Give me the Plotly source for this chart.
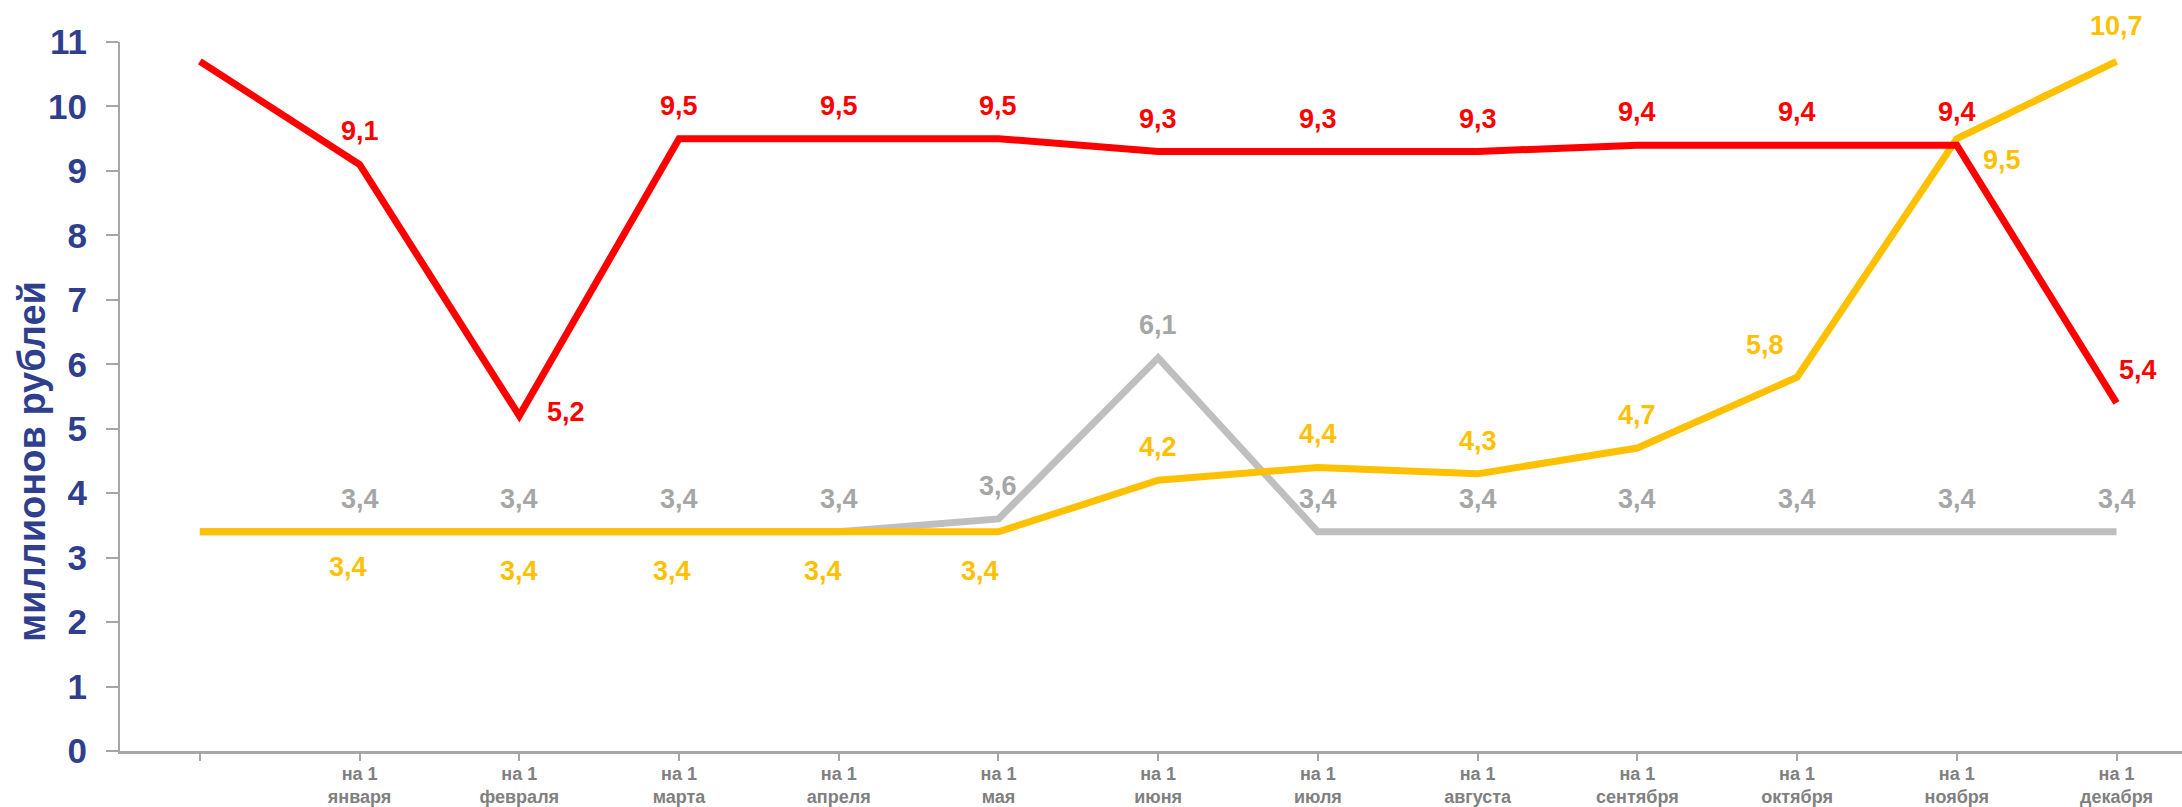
import plotly.graph_objects as go

# ---- data ----
categories = ["", "на 1<br>января", "на 1<br>февраля", "на 1<br>марта", "на 1<br>апреля",
              "на 1<br>мая", "на 1<br>июня", "на 1<br>июля", "на 1<br>августа",
              "на 1<br>сентября", "на 1<br>октября", "на 1<br>ноября", "на 1<br>декабря"]
red_values = [10.7, 9.1, 5.2, 9.5, 9.5, 9.5, 9.3, 9.3, 9.3, 9.4, 9.4, 9.4, 5.4]
gray_values = [3.4, 3.4, 3.4, 3.4, 3.4, 3.6, 6.1, 3.4, 3.4, 3.4, 3.4, 3.4, 3.4]
yellow_values = [3.4, 3.4, 3.4, 3.4, 3.4, 3.4, 4.2, 4.4, 4.3, 4.7, 5.8, 9.5, 10.7]
y_ticks = list(range(0, 12))
y_title = "миллионов рублей"

# ---- label placement (style, not data): (xshift, yshift) in px; None = no label ----
red_offsets = [None] + [(0, 33)] + [(47, 4)] + [(0, 33)] * 9 + [(21, 33)]
gray_offsets = [None] + [(0, 33)] * 12
yellow_offsets = [None] + [(-12, -35), (0, -39), (-7, -39), (-16, -39), (-18, -39),
                           (0, 33), (0, 33), (0, 33), (0, 33), (-32, 32), (45, -21), (0, 35)]

RED = "#FF0000"
YELLOW = "#FFC000"
GRAY_LINE = "#BFBFBF"
GRAY_TEXT = "#A6A6A6"
NAVY = "#2F3F8E"
AXIS = "#A6A6A6"
NARROW = "Liberation Sans Narrow, Arial Narrow, Liberation Sans, sans-serif"
SANS = "Liberation Sans, Arial, sans-serif"

x_idx = list(range(len(categories)))

fig = go.Figure()
for vals, color in [(gray_values, GRAY_LINE), (yellow_values, YELLOW), (red_values, RED)]:
    fig.add_trace(go.Scatter(x=x_idx, y=vals, mode="lines",
                             line=dict(color=color, width=7), hoverinfo="skip",
                             showlegend=False))

annotations = []
for vals, offs, color in [(gray_values, gray_offsets, GRAY_TEXT),
                          (yellow_values, yellow_offsets, YELLOW),
                          (red_values, red_offsets, RED)]:
    for i, (v, o) in enumerate(zip(vals, offs)):
        if o is None:
            continue
        annotations.append(dict(
            x=i, y=v, xref="x", yref="y",
            text="<b>" + f"{v:.1f}".replace(".", ",") + "</b>",
            showarrow=False, xshift=o[0], yshift=o[1],
            xanchor="center", yanchor="middle",
            font=dict(family=SANS, size=27, color=color)))

# y-axis title as a rotated annotation (placed lower than axis centre, as in reference)
annotations.append(dict(
    text="<b>" + y_title + "</b>", x=0, y=0.4076, xref="paper", yref="paper",
    xanchor="center", yanchor="middle", showarrow=False, textangle=-90,
    xshift=32 - 120, font=dict(family=SANS, size=38, color=NAVY)))

fig.update_layout(
    width=2182, height=807,
    margin=dict(l=120, r=0, t=42, b=56, autoexpand=False),
    paper_bgcolor="white", plot_bgcolor="white",
    annotations=annotations,
    showlegend=False,
    font=dict(family=SANS),
)
fig.update_xaxes(
    range=[-0.5, 12.41],
    tickmode="array", tickvals=x_idx, ticktext=[f"<b>{c}</b>" for c in categories],
    tickfont=dict(family=NARROW, size=18, color="#808080"),
    showline=True, linecolor=AXIS, linewidth=3,
    ticks="outside", ticklen=7, tickcolor=AXIS, tickwidth=1.5,
    tickson="boundaries", ticklabelstandoff=-3,
    showgrid=False, zeroline=False,
)
fig.update_yaxes(
    range=[0, 11],
    tickmode="array", tickvals=y_ticks, ticktext=[f"<b>{t}</b>" for t in y_ticks],
    tickfont=dict(family=NARROW, size=35, color=NAVY),
    showline=True, linecolor=AXIS, linewidth=2,
    ticks="outside", ticklen=12, tickcolor=AXIS, tickwidth=2,
    ticklabelstandoff=12,
    showgrid=False, zeroline=False,
)

fig.write_html("out.html", config={"displayModeBar": False},
               post_script="document.body.style.margin='0';document.body.style.overflow='hidden';")
